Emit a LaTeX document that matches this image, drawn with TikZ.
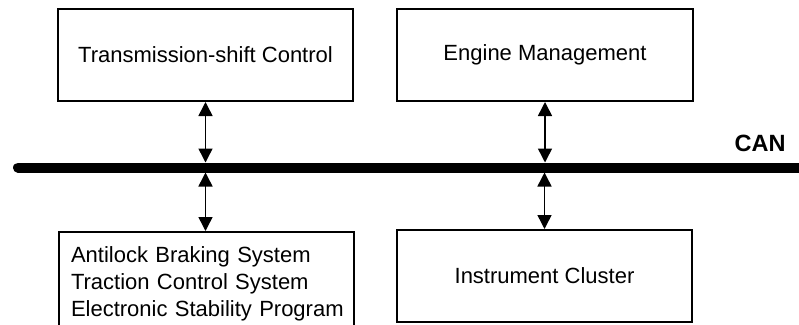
\documentclass[tikz,border=0pt]{standalone}
\usepackage{fontspec}
\setmainfont{Liberation Sans}
\usetikzlibrary{arrows.meta}

\tikzset{
  unitbox/.style={draw=black, line width=2pt, fill=white, inner sep=0pt,
    font=\fontsize{22}{27}\selectfont},
  link/.style={line width=1.5pt, {Triangle[width=14pt,length=14pt]}-{Triangle[width=14pt,length=14pt]}},
  busline/.style={line width=10pt, line cap=round},
  buslabel/.style={font=\fontsize{23.5}{27}\selectfont\bfseries}
}

\begin{document}
\begin{tikzpicture}[x=1pt, y=-1pt]
  \useasboundingbox (0,0) rectangle (799,324);
  \clip (0,0) rectangle (799,324);

  % control units above the bus
  \node[unitbox, minimum width=295pt, minimum height=92pt] (tcu) at (205.5,55)
    {Transmission-shift Control};
  \node[unitbox, minimum width=296pt, minimum height=92pt] (ecu) at (545,55)
    {Engine Management};

  % control units below the bus
  \node[unitbox, anchor=north west, align=left, text width=271pt,
        inner xsep=12pt, inner ysep=14.5pt] (abs) at (58,231)
    {\mbox{Antilock Braking System}\\\mbox{Traction Control System}\\\mbox{Electronic Stability Program}};
  \node[unitbox, minimum width=295pt, minimum height=92pt] (ic) at (544.5,276)
    {Instrument Cluster};

  % CAN bus
  \coordinate (busL) at (18,167.5);
  \coordinate (busR) at (810,167.5);
  \coordinate (busT) at (0,162.5);
  \coordinate (busB) at (0,172.5);
  \draw[busline] (busL) -- (busR);
  \node[buslabel, anchor=base east] (can) at (789,151) {CAN};

  % bidirectional links to the bus
  \draw[link] (tcu.south) -- (tcu.south |- busT);
  \draw[link] (ecu.south) -- (ecu.south |- busT);
  \draw[link] (abs.north -| tcu.south) -- (tcu.south |- busB);
  \draw[link] (ic.north) -- (ic.north |- busB);
\end{tikzpicture}
\end{document}
